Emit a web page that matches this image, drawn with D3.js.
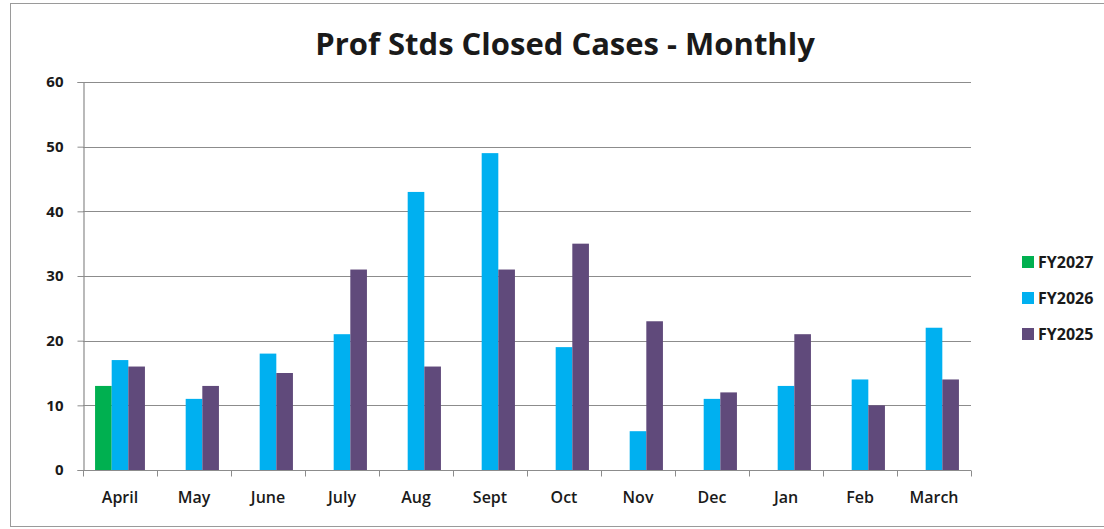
<!DOCTYPE html>
<html>
<head>
<meta charset="utf-8">
<title>Prof Stds Closed Cases - Monthly</title>
<script src="https://cdn.jsdelivr.net/npm/d3@7"></script>
<style>
  body { margin: 0; background: #fff; }
  text { font-family: "Open Sans", "Liberation Sans", sans-serif; fill: #1a1a1a; }
</style>
</head>
<body>
<div id="chart"></div>
<script>
// data
var months = ["April", "May", "June", "July", "Aug", "Sept", "Oct", "Nov", "Dec", "Jan", "Feb", "March"];
var seriesNames = ["FY2027", "FY2026", "FY2025"];
var fy2027 = [13, null, null, null, null, null, null, null, null, null, null, null];
var fy2026 = [17, 11, 18, 21, 43, 49, 19, 6, 11, 13, 14, 22];
var fy2025 = [16, 13, 15, 31, 16, 31, 35, 23, 12, 21, 10, 14];
var yTicks = [0, 10, 20, 30, 40, 50, 60];
var colors = ["#00b050", "#00b0f0", "#604a7b"];

var W = 1104, H = 529;
var plot = {left: 83, right: 971, top: 82, bottom: 470};

var svg = d3.select("#chart").append("svg")
  .attr("width", W).attr("height", H);

// outer frame
svg.append("rect")
  .attr("x", 10.5).attr("y", 3.5)
  .attr("width", W).attr("height", 523)
  .attr("fill", "#fff").attr("stroke", "#9a9a9a").attr("stroke-width", 1);

svg.append("text")
  .attr("x", 565).attr("y", 55)
  .attr("text-anchor", "middle")
  .style("font-size", "31px").style("font-weight", "bold")
  .text("Prof Stds Closed Cases - Monthly");

var x = d3.scaleBand().domain(months).range([plot.left, plot.right]);
var y = d3.scaleLinear().domain([0, 60]).range([plot.bottom, plot.top]);

// three bar slots in the middle of each month
var inner = d3.scaleBand().domain(seriesNames)
  .range([x.bandwidth() * 0.163, x.bandwidth() * 0.837]);

// gridlines
svg.append("g").selectAll("line")
  .data(yTicks.slice(1))
  .enter().append("line")
  .attr("x1", plot.left).attr("x2", plot.right)
  .attr("y1", d => Math.round(y(d)) + 0.5).attr("y2", d => Math.round(y(d)) + 0.5)
  .attr("stroke", "#8c8c8c").attr("stroke-width", 1.2);

var all = [fy2027, fy2026, fy2025];
seriesNames.forEach(function(name, i) {
  svg.append("g").selectAll("rect")
    .data(months.map((m, j) => ({m: m, v: all[i][j]})).filter(d => d.v != null))
    .enter().append("rect")
    .attr("x", d => x(d.m) + inner(name))
    .attr("width", inner.bandwidth())
    .attr("y", d => y(d.v))
    .attr("height", d => y(0) - y(d.v))
    .attr("fill", colors[i]);
});

// y axis
var yAxis = svg.append("g")
  .attr("transform", "translate(" + (plot.left + 0.5) + ",0)")
  .call(d3.axisLeft(y).tickValues(yTicks).tickSize(6).tickPadding(14));
yAxis.select(".domain").attr("stroke", "#8c8c8c").attr("stroke-width", 1.2);
yAxis.selectAll(".tick line").attr("stroke", "#8c8c8c");
yAxis.selectAll(".tick text")
  .style("font-size", "15px").style("font-weight", "bold")
  .style("font-family", "'Open Sans', sans-serif").attr("fill", "#1a1a1a");

// x axis with ticks at category boundaries
var xAxis = svg.append("g")
  .attr("transform", "translate(0," + (plot.bottom + 0.5) + ")");
xAxis.append("line")
  .attr("x1", plot.left).attr("x2", plot.right)
  .attr("stroke", "#8c8c8c").attr("stroke-width", 1.2);
xAxis.selectAll("line.tk")
  .data(months.concat(["end"]))
  .enter().append("line").attr("class", "tk")
  .attr("x1", (d, i) => Math.round(plot.left + i * x.step()) + 0.5)
  .attr("x2", (d, i) => Math.round(plot.left + i * x.step()) + 0.5)
  .attr("y1", 0).attr("y2", 6)
  .attr("stroke", "#8c8c8c");
xAxis.selectAll("text")
  .data(months)
  .enter().append("text")
  .attr("x", d => x(d) + x.bandwidth() / 2)
  .attr("y", 32)
  .attr("text-anchor", "middle")
  .style("font-size", "16px")
  .style("font-weight", 600)
  .text(d => d);

// legend
var legend = svg.append("g").attr("transform", "translate(1022,256)");
seriesNames.forEach(function(name, i) {
  var g = legend.append("g").attr("transform", "translate(0," + (i * 36) + ")");
  g.append("rect").attr("width", 12).attr("height", 12).attr("fill", colors[i]);
  g.append("text").attr("x", 16).attr("y", 12)
    .style("font-size", "16px").style("font-weight", "bold")
    .text(name);
});
</script>
</body>
</html>
